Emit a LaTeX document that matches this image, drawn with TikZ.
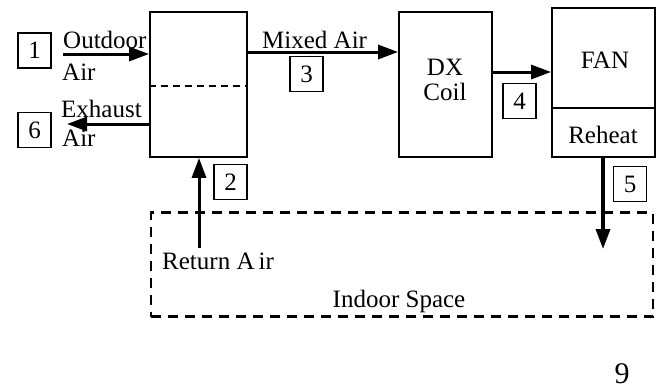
\documentclass[tikz,border=0pt]{standalone}
\usepackage{fontspec}
\setmainfont{Liberation Serif}
\usetikzlibrary{arrows.meta}
\begin{document}
\begin{tikzpicture}[x=1pt,y=-1pt,
  every node/.style={font=\fontsize{25}{29}\selectfont, inner sep=0pt},
  block/.style={draw, line width=1.8pt, rectangle},
  numbox/.style={draw, line width=1.5pt, minimum width=33pt, minimum height=35pt},
  flow/.style={line width=3pt, -{Triangle[length=20pt,width=14pt]}},
  lbl/.style={anchor=base west}
]
\useasboundingbox (0,0) rectangle (664,389);
% blocks
\node[block, minimum width=97pt, minimum height=145pt] (mixer) at (198.5,84.5) {};
\draw[line width=1.8pt, dash pattern=on 7pt off 5pt] ([yshift=-1.5pt]mixer.west) coordinate (dl) -- ([yshift=-1.5pt]mixer.east) coordinate (dr);
\node[block, minimum width=93pt, minimum height=145pt] (dx) at (445.5,84.5) {};
\node[block, minimum width=103pt, minimum height=149pt] (fan) at (603.5,82.5) {};
\draw[line width=1.8pt] ([yshift=-25.5pt]fan.west) coordinate (fl) -- ([yshift=-25.5pt]fan.east) coordinate (fr);
\node[draw, line width=2.5pt, dash pattern=on 10pt off 7pt, minimum width=502pt, minimum height=104pt] (indoor) at (402,264.5) {};
% texts in blocks
\node[anchor=base] (dxt) at (445,75) {DX};
\node[anchor=base] (coilt) at (445,100) {Coil};
\node[anchor=base] (fant) at (605,68) {FAN};
\node[anchor=base] (reht) at (603,143) {Reheat};
\node[anchor=base] (indt) at (399,307) {Indoor Space};
% number boxes
\node[numbox] (b1) at (34.5,50.5) {1};
\node[numbox] (b6) at (34.5,130) {6};
\node[numbox] (b2) at (230.5,182) {2};
\node[numbox] (b3) at (306.5,74) {3};
\node[numbox] (b4) at (519.5,101) {4};
\node[numbox] (b5) at (630,184) {5};
% labels
\node[lbl] (outd) at (63,48) {Outdoor};
\node[lbl] (outa) at (62,80) {Air};
\node[lbl] (exh) at (61,117) {Exhaust};
\node[lbl] (exha) at (62,146) {Air};
\node[lbl] (mix) at (262,48) {Mixed Air};
\node[lbl] (ret) at (162,269) {Return A\hspace{4pt}ir};
\node[anchor=base, font=\fontsize{30}{34}\selectfont] (nine) at (622,383) {9};
% connectors
\coordinate (oin) at (63,54);
\coordinate (eout) at (67,124);
\coordinate (rin) at (199,248);
\coordinate (sout) at (603,249);
\draw[flow] (oin) -- (oin -| mixer.west);
\draw[flow] (eout -| mixer.west) -- (eout);
\draw[flow] ([yshift=32.5pt]mixer.east) -- ([yshift=32.5pt]dx.west);
\draw[flow] ([yshift=12.5pt]dx.east) -- ([yshift=12.5pt]dx.east -| fan.west);
\draw[flow, line width=3.5pt] (sout |- fan.south) -- (sout);
\draw[flow] (rin) -- (rin |- mixer.south);
\end{tikzpicture}
\end{document}
